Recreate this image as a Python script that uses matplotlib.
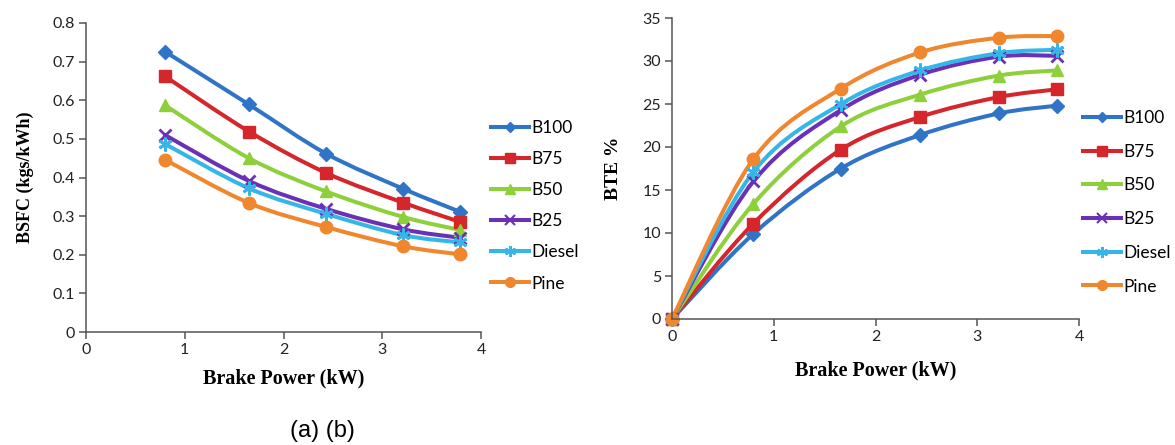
import matplotlib
matplotlib.use("Agg")
import matplotlib.pyplot as plt
from matplotlib.path import Path
from matplotlib.patches import PathPatch
from matplotlib.lines import Line2D
import numpy as np

# (a) BSFC vs brake power
bp_a = [0.8, 1.65, 2.43, 3.21, 3.79]
bsfc = {
    "B100": [0.726, 0.589, 0.462, 0.371, 0.311],
    "B75": [0.662, 0.519, 0.412, 0.335, 0.285],
    "B50": [0.587, 0.450, 0.364, 0.298, 0.264],
    "B25": [0.510, 0.391, 0.319, 0.266, 0.244],
    "Diesel": [0.487, 0.372, 0.306, 0.251, 0.232],
    "Pine": [0.446, 0.334, 0.272, 0.222, 0.201],
}

# (b) BTE vs brake power
bp_b = [0, 0.80, 1.66, 2.44, 3.21, 3.78]
bte = {
    "B100": [0, 9.9, 17.5, 21.4, 23.9, 24.8],
    "B75": [0, 11.1, 19.7, 23.5, 25.8, 26.7],
    "B50": [0, 13.4, 22.4, 26.1, 28.3, 28.9],
    "B25": [0, 16.0, 24.3, 28.4, 30.5, 30.6],
    "Diesel": [0, 17.1, 25.0, 28.9, 30.9, 31.3],
    "Pine": [0, 18.6, 26.8, 31.0, 32.7, 32.9],
}

colors = {"B100": "#2f74c6", "B75": "#d4262b", "B50": "#8ed03c",
          "B25": "#6a30b5", "Diesel": "#35b6e6", "Pine": "#f0862d"}
markers = {"B100": "D", "B75": "s", "B50": "^", "B25": "x",
           "Diesel": (6, 2, 0), "Pine": "o"}
msize = {"B100": 7.5, "B75": 9, "B50": 9, "B25": 9, "Diesel": 10, "Pine": 9}

tick_font = "Lato"
label_font = "Liberation Serif"


def smooth_path(x, y):
    # Excel style smoothed line: cubic bezier through the points
    pts = np.column_stack([x, y]).astype(float)
    n = len(pts)
    verts = [pts[0]]
    codes = [Path.MOVETO]
    for i in range(n - 1):
        p0 = pts[i - 1] if i > 0 else pts[i]
        p1 = pts[i]
        p2 = pts[i + 1]
        p3 = pts[i + 2] if i + 2 < n else pts[i + 1]
        c1 = p1 + (p2 - p0) / 6.0
        c2 = p2 - (p3 - p1) / 6.0
        verts += [c1, c2, p2]
        codes += [Path.CURVE4] * 3
    return Path(verts, codes)


def draw(ax, x, data):
    handles = []
    for name, vals in data.items():
        c = colors[name]
        ax.add_patch(PathPatch(smooth_path(x, vals), fill=False, edgecolor=c,
                               lw=2.9, capstyle="round", joinstyle="round"))
        mk = markers[name]
        thin = name in ("B25", "Diesel")
        ax.plot(x, vals, linestyle="none", marker=mk, ms=msize[name],
                color=c, mec=c, mew=2.0 if thin else 1, clip_on=False)
        handles.append(Line2D([], [], color=c, lw=2.9, marker=mk,
                              ms=msize[name] - 2, mec=c,
                              mew=1.5 if thin else 1, label=name))
    for s in ("top", "right"):
        ax.spines[s].set_visible(False)
    for s in ("left", "bottom"):
        ax.spines[s].set_color("#555555")
        ax.spines[s].set_linewidth(1.1)
    ax.tick_params(direction="out", length=5, width=1.1, color="#555555",
                   labelsize=11.5, labelcolor="#222222", pad=3)
    return handles


fig = plt.figure(figsize=(11.75, 4.45), dpi=100)

# ---- (a)
ax1 = fig.add_axes([86 / 1175, 1 - 332 / 445, 395 / 1175, 309 / 445])
h1 = draw(ax1, bp_a, bsfc)
ax1.set_xlim(0, 4)
ax1.set_ylim(0, 0.8)
ax1.set_xticks([0, 1, 2, 3, 4])
ax1.set_yticks(np.arange(0, 0.81, 0.1))
ax1.set_yticklabels(["0", "0.1", "0.2", "0.3", "0.4", "0.5", "0.6", "0.7", "0.8"],
                    fontfamily=tick_font)
ax1.set_xticklabels(["0", "1", "2", "3", "4"], fontfamily=tick_font)
ax1.set_xlabel("Brake Power (kW)", fontfamily=label_font, fontweight="bold",
               fontsize=14.5, va="center")
ax1.xaxis.set_label_coords(0.5, (332 - 378) / 309)
ax1.set_ylabel("BSFC (kgs/kWh)", fontfamily=label_font, fontweight="bold",
               fontsize=13, va="center")
ax1.yaxis.set_label_coords((25 - 86) / 395, 0.5)
fig.legend(handles=h1, loc="upper left", bbox_to_anchor=(491 / 1175, 1 - 120 / 445),
           frameon=False, borderpad=0, borderaxespad=0, handlelength=2.2,
           handletextpad=0.1, labelspacing=0.87,
           prop={"family": tick_font, "size": 12.5})

# ---- (b)
ax2 = fig.add_axes([672 / 1175, 1 - 319 / 445, 407 / 1175, 301 / 445])
h2 = draw(ax2, bp_b, bte)
ax2.set_xlim(0, 4)
ax2.set_ylim(0, 35)
ax2.set_xticks([0, 1, 2, 3, 4])
ax2.set_yticks(range(0, 36, 5))
ax2.set_xticklabels(["0", "1", "2", "3", "4"], fontfamily=tick_font)
ax2.set_yticklabels([str(v) for v in range(0, 36, 5)], fontfamily=tick_font)
ax2.set_xlabel("Brake Power (kW)", fontfamily=label_font, fontweight="bold",
               fontsize=14.5, va="center")
ax2.xaxis.set_label_coords(0.5, (319 - 370) / 301)
ax2.set_ylabel("BTE %", fontfamily=label_font, fontweight="bold",
               fontsize=14, va="center")
ax2.yaxis.set_label_coords((614 - 672) / 407, 0.5)
fig.legend(handles=h2, loc="upper left", bbox_to_anchor=(1083 / 1175, 1 - 110 / 445),
           frameon=False, borderpad=0, borderaxespad=0, handlelength=2.2,
           handletextpad=0.1, labelspacing=1.02,
           prop={"family": tick_font, "size": 12.5})

fig.text(322 / 1175, 1 - 431 / 445, "(a) (b)", fontfamily="Liberation Sans",
         fontsize=17, va="center", ha="center")

fig.savefig("out.png", dpi=100)
